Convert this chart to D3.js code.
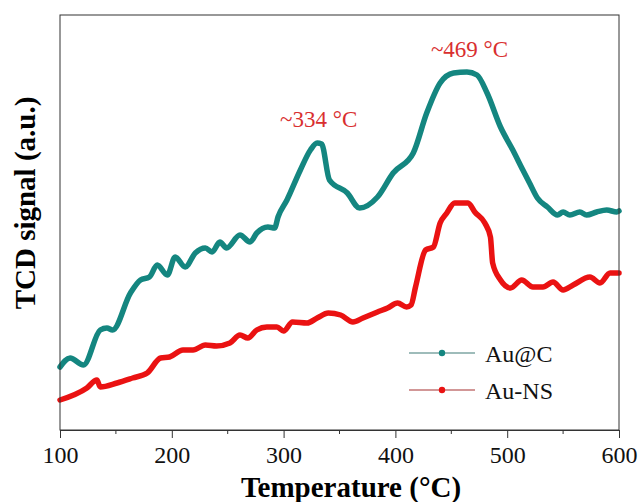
<!DOCTYPE html>
<html>
<head>
<meta charset="utf-8">
<script src="https://cdn.jsdelivr.net/npm/d3@7"></script>
<style>
  body { margin: 0; background: #fff; }
  text { font-family: "Liberation Serif", "Times New Roman", serif; }
</style>
</head>
<body>
<svg id="chart" width="641" height="502"></svg>
<script>
// Au@C TPR trace (temperature in C, signal in a.u.)
const aucTemp = [100, 109, 121, 136, 142, 147, 163, 172, 180, 187, 196, 203, 212, 221, 230, 236, 243, 249, 261, 270, 276, 286, 292, 295, 303, 315, 324, 330, 334, 341, 357, 368, 384, 398, 416, 428, 440, 452, 464, 473, 482, 494, 505, 514, 520, 527, 536, 545, 550, 556, 565, 571, 580, 589, 598, 600];
const aucSignal = [63, 72, 65, 100, 102, 100, 137, 150, 153, 165, 155, 173, 163, 177, 182, 178, 188, 182, 195, 188, 197, 203, 202, 213, 230, 260, 280, 287, 286, 250, 237, 222, 233, 257, 277, 317, 347, 357, 358, 355, 337, 303, 280, 260, 247, 232, 223, 215, 218, 215, 218, 215, 218, 220, 218, 219];

// Au-NS TPR trace
const nsTemp = [100, 124, 133, 136, 151, 165, 178, 190, 198, 210, 219, 230, 240, 252, 261, 268, 276, 285, 294, 300, 308, 321, 330, 340, 351, 362, 371, 384, 393, 402, 410, 414, 418, 427, 434, 440, 446, 453, 465, 471, 480, 485, 487, 494, 503, 513, 523, 532, 541, 550, 559, 574, 583, 592, 600];
const nsSignal = [30, 42, 50, 43, 47, 52, 57, 72, 73, 80, 80, 85, 84, 87, 95, 92, 100, 103, 103, 99, 108, 107, 112, 117, 115, 108, 112, 118, 122, 127, 123, 125, 143, 180, 183, 207, 217, 227, 227, 218, 207, 193, 167, 150, 142, 150, 143, 143, 148, 140, 145, 153, 147, 157, 157];

const xTicks = [100, 200, 300, 400, 500, 600];
const peakLabels = [
  { t: 334, v: 287, label: "~334 \u00B0C" },
  { t: 469, v: 358, label: "~469 \u00B0C" }
];
const seriesNames = ["Au@C", "Au-NS"];

const margin = { left: 60, right: 22, top: 15, bottom: 72 };
const width = 641, height = 502;
const svg = d3.select('#chart');

const x = d3.scaleLinear().domain([100, 600]).range([margin.left, width - margin.right]);
const y = d3.scaleLinear().domain([0, 415]).range([height - margin.bottom, margin.top]);

const series = [
  { name: seriesNames[0], color: '#148680', lineColor: '#3f7a76', data: aucTemp.map((t, i) => [t, aucSignal[i]]) },
  { name: seriesNames[1], color: '#ea1212', lineColor: '#a63030', data: nsTemp.map((t, i) => [t, nsSignal[i]]) }
];

const line = d3.line()
  .x(d => x(d[0]))
  .y(d => y(d[1]))
  .curve(d3.curveMonotoneX);

series.forEach(s => {
  svg.append('path')
    .datum(s.data)
    .attr('d', line)
    .attr('fill', 'none')
    .attr('stroke', s.color)
    .attr('stroke-width', 5.5)
    .attr('stroke-linejoin', 'round')
    .attr('stroke-linecap', 'round');
});

// frame
svg.append('rect')
  .attr('x', x(100)).attr('y', y(415))
  .attr('width', x(600) - x(100)).attr('height', y(0) - y(415))
  .attr('fill', 'none').attr('stroke', '#333').attr('stroke-width', 1);

// x axis
const xAxis = d3.axisBottom(x).tickValues(xTicks).tickSize(8).tickSizeOuter(0).tickFormat(d3.format('d'));
const gx = svg.append('g').attr('transform', `translate(0,${y(0)})`).call(xAxis);
gx.select('.domain').attr('stroke', '#333');
gx.selectAll('.tick line').attr('stroke', '#333');
gx.selectAll('.tick text')
  .attr('fill', '#111')
  .attr('dy', null)
  .attr('y', 33)
  .style('font-size', '24px');

const minor = d3.range(150, 600, 100);
svg.append('g').selectAll('line').data(minor).enter().append('line')
  .attr('x1', d => x(d)).attr('x2', d => x(d))
  .attr('y1', y(0)).attr('y2', y(0) + 4)
  .attr('stroke', '#333');

// axis titles
svg.append('text')
  .attr('x', 351).attr('y', 497)
  .attr('text-anchor', 'middle')
  .style('font-size', '29px').style('font-weight', 'bold')
  .text('Temperature (\u00B0C)');

svg.append('text')
  .attr('transform', 'translate(35,203) rotate(-90)')
  .attr('text-anchor', 'middle')
  .style('font-size', '29px').style('font-weight', 'bold')
  .text('TCD signal (a.u.)');

// peak annotations
svg.append('g').selectAll('text').data(peakLabels).enter().append('text')
  .attr('x', d => x(d.t) - 3)
  .attr('y', (d, i) => y(d.v) - [16, 15][i])
  .attr('text-anchor', 'middle')
  .attr('fill', '#d92f2f')
  .style('font-size', '23px')
  .text(d => d.label);

// legend
const legend = svg.append('g').attr('transform', 'translate(409,353)');
series.forEach((s, i) => {
  const g = legend.append('g').attr('transform', `translate(0,${i * 37})`);
  g.append('line').attr('x1', 0).attr('x2', 66).attr('y1', 0).attr('y2', 0)
    .attr('stroke', s.lineColor).attr('stroke-width', 1.2);
  g.append('circle').attr('cx', 33).attr('cy', 0).attr('r', 3.2).attr('fill', s.color);
  g.append('text').attr('x', 76).attr('y', 9)
    .style('font-size', '24px').attr('fill', '#111')
    .text(s.name);
});
</script>
</body>
</html>
